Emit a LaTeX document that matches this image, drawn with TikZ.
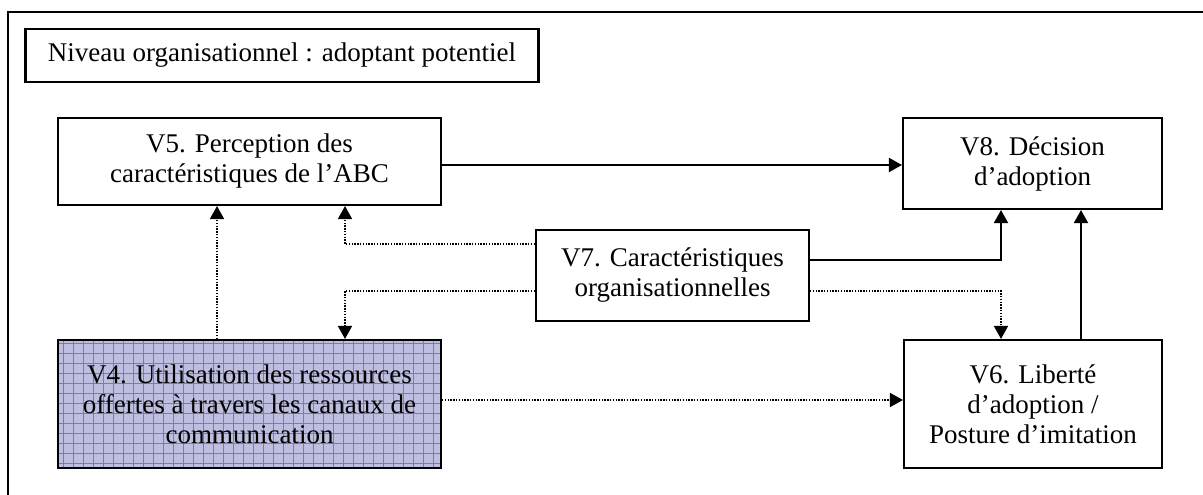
\documentclass[tikz,border=0pt]{standalone}
\usepackage{fontspec}
\setmainfont{Liberation Serif}
\usetikzlibrary{arrows.meta}
\definecolor{vfill}{RGB}{190,190,224}
\definecolor{vgrid}{RGB}{122,122,182}
\begin{document}
\begin{tikzpicture}[x=1pt,y=-1pt,
  box/.style={draw,line width=2.1pt,align=center,inner sep=0pt,
    font=\fontsize{27}{30}\selectfont},
  solidcon/.style={line width=1.8pt,-{Triangle[length=13pt,width=14pt]}},
  dotcon/.style={line width=1.6pt,dash pattern=on 1.4pt off 1.4pt,-{Triangle[length=13pt,width=14pt]}},
  gridbox/.style={fill=vfill,path picture={\draw[vgrid,line width=0.7pt,step=10pt]
      (path picture bounding box.south west) grid (path picture bounding box.north east);}}]
\useasboundingbox (0,0) rectangle (1203,495);
\draw[line width=2pt] (8,495) -- (8,12) -- (1203,12);
\node[box,minimum width=513pt,minimum height=53pt] (title) at (282,55.5) {Niveau organisationnel : adoptant potentiel};
\node[box,minimum width=383pt,minimum height=87pt] (v5) at (249.5,161.5) {V5. Perception des\\caractéristiques de l’ABC};
\node[box,minimum width=259pt,minimum height=91pt] (v8) at (1032.5,163.5) {V8. Décision\\d’adoption};
\node[box,minimum width=273pt,minimum height=91pt] (v7) at (672.5,275.5) {V7. Caractéristiques\\organisationnelles};
\node[box,gridbox,minimum width=383pt,minimum height=128pt] (v4) at (249.5,404) {V4. Utilisation des ressources\\offertes à travers les canaux de\\communication};
\node[box,minimum width=258pt,minimum height=128pt] (v6) at (1033,404) {V6. Liberté\\d’adoption /\\Posture d’imitation};
% solid connectors
\draw[solidcon] ([yshift=-3.5pt]v5.east) -- ([yshift=-3.5pt]v5.east -| v8.west);
\draw[solidcon] ([yshift=15.5pt]v7.east) -| ([xshift=-31.5pt]v8.south);
\draw[solidcon] ([xshift=48pt]v6.north) -- ([xshift=48pt]v6.north |- v8.south);
% dotted connectors
\draw[dotcon] ([yshift=31.5pt]v7.west) -| ([xshift=95.5pt]v5.south);
\draw[dotcon] ([yshift=-15.5pt]v7.west) -| ([xshift=95.5pt]v4.north);
\draw[dotcon] ([yshift=-15.5pt]v7.east) -| ([xshift=-32pt]v6.north);
\draw[dotcon] ([xshift=-32.5pt]v4.north) -- ([xshift=-32.5pt]v5.south);
\draw[dotcon] ([yshift=4pt]v4.east) -- ([yshift=4pt]v4.east -| v6.west);
\end{tikzpicture}
\end{document}
